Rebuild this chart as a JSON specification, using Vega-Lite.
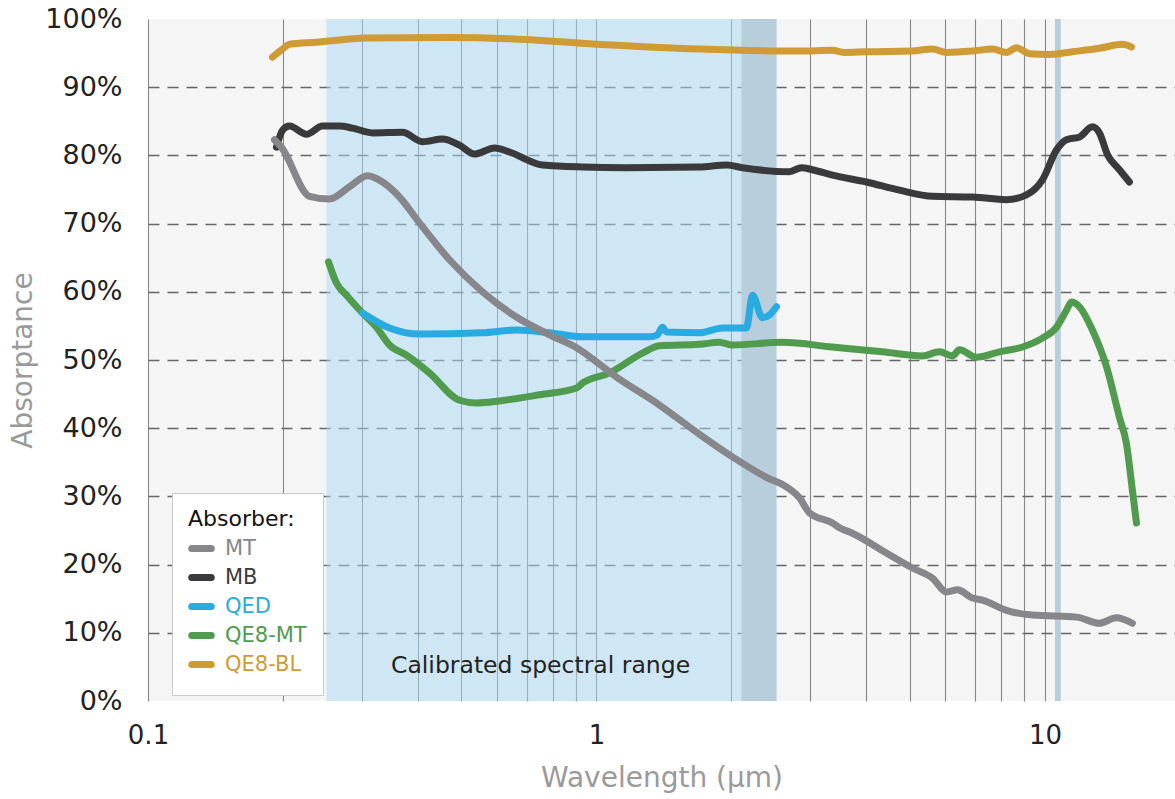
{
  "$schema": "https://vega.github.io/schema/vega-lite/v6.json",
  "width": 1027,
  "height": 682,
  "autosize": {"type": "none"},
  "padding": {"left": 148, "top": 19, "right": 0, "bottom": 98},
  "background": "white",
  "config": {
    "font": "DejaVu Sans",
    "view": {"fill": "#f5f5f5", "stroke": null}
  },
  "datasets": {
    "bands": [
      {"start": 0.25, "end": 2.52, "kind": "cal"}
    ],
    "hatch": [
      {"start": 2.105, "end": 2.52},
      {"start": 10.53, "end": 10.85}
    ],
    "curves": [
      {"s": "QE8-BL", "w": 0.1895, "a": 0.944},
      {"s": "QE8-BL", "w": 0.1995, "a": 0.956},
      {"s": "QE8-BL", "w": 0.2068, "a": 0.963},
      {"s": "QE8-BL", "w": 0.2375, "a": 0.966},
      {"s": "QE8-BL", "w": 0.307, "a": 0.972},
      {"s": "QE8-BL", "w": 0.47, "a": 0.973},
      {"s": "QE8-BL", "w": 0.64, "a": 0.971},
      {"s": "QE8-BL", "w": 1.0, "a": 0.963},
      {"s": "QE8-BL", "w": 1.697, "a": 0.956},
      {"s": "QE8-BL", "w": 2.836, "a": 0.953},
      {"s": "QE8-BL", "w": 3.359, "a": 0.954},
      {"s": "QE8-BL", "w": 3.57, "a": 0.951},
      {"s": "QE8-BL", "w": 4.0, "a": 0.952},
      {"s": "QE8-BL", "w": 5.04, "a": 0.953},
      {"s": "QE8-BL", "w": 5.614, "a": 0.956},
      {"s": "QE8-BL", "w": 6.032, "a": 0.951},
      {"s": "QE8-BL", "w": 6.892, "a": 0.953},
      {"s": "QE8-BL", "w": 7.64, "a": 0.956},
      {"s": "QE8-BL", "w": 8.207, "a": 0.951},
      {"s": "QE8-BL", "w": 8.639, "a": 0.958},
      {"s": "QE8-BL", "w": 9.235, "a": 0.949},
      {"s": "QE8-BL", "w": 10.23, "a": 0.948},
      {"s": "QE8-BL", "w": 11.52, "a": 0.952},
      {"s": "QE8-BL", "w": 13.23, "a": 0.957},
      {"s": "QE8-BL", "w": 14.89, "a": 0.963},
      {"s": "QE8-BL", "w": 15.59, "a": 0.959},

      {"s": "QE8-MT", "w": 0.2526, "a": 0.644},
      {"s": "QE8-MT", "w": 0.2632, "a": 0.613},
      {"s": "QE8-MT", "w": 0.2771, "a": 0.595},
      {"s": "QE8-MT", "w": 0.3007, "a": 0.569},
      {"s": "QE8-MT", "w": 0.3231, "a": 0.548},
      {"s": "QE8-MT", "w": 0.3455, "a": 0.522},
      {"s": "QE8-MT", "w": 0.3771, "a": 0.507},
      {"s": "QE8-MT", "w": 0.4243, "a": 0.481},
      {"s": "QE8-MT", "w": 0.495, "a": 0.441},
      {"s": "QE8-MT", "w": 0.5401, "a": 0.437},
      {"s": "QE8-MT", "w": 0.6077, "a": 0.44},
      {"s": "QE8-MT", "w": 0.7462, "a": 0.449},
      {"s": "QE8-MT", "w": 0.9025, "a": 0.459},
      {"s": "QE8-MT", "w": 0.9306, "a": 0.466},
      {"s": "QE8-MT", "w": 1.069, "a": 0.481},
      {"s": "QE8-MT", "w": 1.266, "a": 0.51},
      {"s": "QE8-MT", "w": 1.382, "a": 0.521},
      {"s": "QE8-MT", "w": 1.697, "a": 0.523},
      {"s": "QE8-MT", "w": 1.88, "a": 0.526},
      {"s": "QE8-MT", "w": 2.01, "a": 0.522},
      {"s": "QE8-MT", "w": 2.598, "a": 0.526},
      {"s": "QE8-MT", "w": 3.359, "a": 0.519},
      {"s": "QE8-MT", "w": 4.342, "a": 0.512},
      {"s": "QE8-MT", "w": 5.333, "a": 0.506},
      {"s": "QE8-MT", "w": 5.82, "a": 0.512},
      {"s": "QE8-MT", "w": 6.22, "a": 0.506},
      {"s": "QE8-MT", "w": 6.448, "a": 0.515},
      {"s": "QE8-MT", "w": 7.036, "a": 0.504},
      {"s": "QE8-MT", "w": 7.915, "a": 0.512},
      {"s": "QE8-MT", "w": 8.909, "a": 0.519},
      {"s": "QE8-MT", "w": 9.872, "a": 0.532},
      {"s": "QE8-MT", "w": 10.61, "a": 0.548},
      {"s": "QE8-MT", "w": 11.17, "a": 0.573},
      {"s": "QE8-MT", "w": 11.46, "a": 0.585},
      {"s": "QE8-MT", "w": 11.94, "a": 0.578},
      {"s": "QE8-MT", "w": 12.76, "a": 0.544},
      {"s": "QE8-MT", "w": 13.72, "a": 0.49},
      {"s": "QE8-MT", "w": 14.66, "a": 0.416},
      {"s": "QE8-MT", "w": 15.19, "a": 0.378},
      {"s": "QE8-MT", "w": 15.67, "a": 0.309},
      {"s": "QE8-MT", "w": 16.0, "a": 0.261},

      {"s": "QED", "w": 0.3007, "a": 0.569},
      {"s": "QED", "w": 0.3455, "a": 0.547},
      {"s": "QED", "w": 0.403, "a": 0.538},
      {"s": "QED", "w": 0.557, "a": 0.54},
      {"s": "QED", "w": 0.6632, "a": 0.544},
      {"s": "QED", "w": 0.7855, "a": 0.54},
      {"s": "QED", "w": 0.9306, "a": 0.534},
      {"s": "QED", "w": 1.313, "a": 0.534},
      {"s": "QED", "w": 1.368, "a": 0.537},
      {"s": "QED", "w": 1.403, "a": 0.548},
      {"s": "QED", "w": 1.432, "a": 0.541},
      {"s": "QED", "w": 1.697, "a": 0.54},
      {"s": "QED", "w": 1.91, "a": 0.547},
      {"s": "QED", "w": 2.16, "a": 0.547},
      {"s": "QED", "w": 2.228, "a": 0.595},
      {"s": "QED", "w": 2.345, "a": 0.562},
      {"s": "QED", "w": 2.431, "a": 0.566},
      {"s": "QED", "w": 2.52, "a": 0.578},

      {"s": "MB", "w": 0.1934, "a": 0.812},
      {"s": "MB", "w": 0.1995, "a": 0.837},
      {"s": "MB", "w": 0.2068, "a": 0.843},
      {"s": "MB", "w": 0.2256, "a": 0.831},
      {"s": "MB", "w": 0.2449, "a": 0.843},
      {"s": "MB", "w": 0.2673, "a": 0.843},
      {"s": "MB", "w": 0.2858, "a": 0.84},
      {"s": "MB", "w": 0.3166, "a": 0.833},
      {"s": "MB", "w": 0.3693, "a": 0.834},
      {"s": "MB", "w": 0.4093, "a": 0.82},
      {"s": "MB", "w": 0.4535, "a": 0.824},
      {"s": "MB", "w": 0.495, "a": 0.815},
      {"s": "MB", "w": 0.5346, "a": 0.802},
      {"s": "MB", "w": 0.5924, "a": 0.811},
      {"s": "MB", "w": 0.6397, "a": 0.805},
      {"s": "MB", "w": 0.7578, "a": 0.786},
      {"s": "MB", "w": 0.9306, "a": 0.783},
      {"s": "MB", "w": 1.166, "a": 0.782},
      {"s": "MB", "w": 1.697, "a": 0.783},
      {"s": "MB", "w": 1.95, "a": 0.786},
      {"s": "MB", "w": 2.116, "a": 0.782},
      {"s": "MB", "w": 2.694, "a": 0.776},
      {"s": "MB", "w": 2.865, "a": 0.782},
      {"s": "MB", "w": 3.031, "a": 0.779},
      {"s": "MB", "w": 3.359, "a": 0.771},
      {"s": "MB", "w": 4.0, "a": 0.761},
      {"s": "MB", "w": 4.738, "a": 0.749},
      {"s": "MB", "w": 5.614, "a": 0.74},
      {"s": "MB", "w": 6.892, "a": 0.739},
      {"s": "MB", "w": 8.207, "a": 0.735},
      {"s": "MB", "w": 9.094, "a": 0.742},
      {"s": "MB", "w": 9.872, "a": 0.764},
      {"s": "MB", "w": 10.61, "a": 0.808},
      {"s": "MB", "w": 11.17, "a": 0.823},
      {"s": "MB", "w": 11.94, "a": 0.827},
      {"s": "MB", "w": 12.76, "a": 0.842},
      {"s": "MB", "w": 13.23, "a": 0.833},
      {"s": "MB", "w": 13.79, "a": 0.801},
      {"s": "MB", "w": 14.66, "a": 0.779},
      {"s": "MB", "w": 15.43, "a": 0.761},

      {"s": "MT", "w": 0.1914, "a": 0.823},
      {"s": "MT", "w": 0.1984, "a": 0.812},
      {"s": "MT", "w": 0.2292, "a": 0.74},
      {"s": "MT", "w": 0.2539, "a": 0.736},
      {"s": "MT", "w": 0.2814, "a": 0.754},
      {"s": "MT", "w": 0.3086, "a": 0.77},
      {"s": "MT", "w": 0.3333, "a": 0.761},
      {"s": "MT", "w": 0.3637, "a": 0.739},
      {"s": "MT", "w": 0.403, "a": 0.701},
      {"s": "MT", "w": 0.4701, "a": 0.647},
      {"s": "MT", "w": 0.557, "a": 0.6},
      {"s": "MT", "w": 0.6632, "a": 0.563},
      {"s": "MT", "w": 0.7855, "a": 0.537},
      {"s": "MT", "w": 0.9025, "a": 0.518},
      {"s": "MT", "w": 1.108, "a": 0.475},
      {"s": "MT", "w": 1.382, "a": 0.434},
      {"s": "MT", "w": 1.697, "a": 0.391},
      {"s": "MT", "w": 2.01, "a": 0.358},
      {"s": "MT", "w": 2.393, "a": 0.328},
      {"s": "MT", "w": 2.652, "a": 0.314},
      {"s": "MT", "w": 2.836, "a": 0.298},
      {"s": "MT", "w": 2.985, "a": 0.276},
      {"s": "MT", "w": 3.359, "a": 0.261},
      {"s": "MT", "w": 3.482, "a": 0.254},
      {"s": "MT", "w": 3.722, "a": 0.246},
      {"s": "MT", "w": 4.432, "a": 0.217},
      {"s": "MT", "w": 5.066, "a": 0.195},
      {"s": "MT", "w": 5.614, "a": 0.18},
      {"s": "MT", "w": 6.032, "a": 0.16},
      {"s": "MT", "w": 6.382, "a": 0.163},
      {"s": "MT", "w": 6.892, "a": 0.151},
      {"s": "MT", "w": 7.255, "a": 0.148},
      {"s": "MT", "w": 8.207, "a": 0.133},
      {"s": "MT", "w": 9.379, "a": 0.126},
      {"s": "MT", "w": 11.76, "a": 0.123},
      {"s": "MT", "w": 13.23, "a": 0.114},
      {"s": "MT", "w": 14.43, "a": 0.122},
      {"s": "MT", "w": 15.67, "a": 0.114}
    ]
  },
  "encoding": {
    "x": {
      "type": "quantitative",
      "scale": {"type": "log", "domain": [0.1, 19.5], "nice": false},
      "axis": {
        "values": [0.1, 0.2, 0.3, 0.4, 0.5, 0.6, 0.7, 0.8, 0.9, 1, 2, 3, 4, 5, 6, 7, 8, 9, 10],
        "labelExpr": "datum.value == 0.1 || datum.value == 1 || datum.value == 10 ? datum.label : ''",
        "format": "~g",
        "grid": true,
        "gridColor": "#878787",
        "gridWidth": 1.1,
        "ticks": false,
        "domain": false,
        "labelFontSize": 26,
        "labelColor": "#222222",
        "labelPadding": 21,
        "labelFlush": false,
        "labelOverlap": false,
        "title": "Wavelength (µm)",
        "titleFontSize": 28,
        "titleFontWeight": "normal",
        "titleColor": "#9a9a9a",
        "titlePadding": 16
      }
    },
    "y": {
      "type": "quantitative",
      "scale": {"domain": [0, 1], "nice": false},
      "axis": {
        "values": [0, 0.1, 0.2, 0.3, 0.4, 0.5, 0.6, 0.7, 0.8, 0.9, 1],
        "format": ".0%",
        "grid": true,
        "gridColor": "#666666",
        "gridWidth": 1.3,
        "gridDash": [11, 8],
        "gridOpacity": {"condition": {"test": "datum.value == 0 || datum.value == 1", "value": 0}, "value": 1},
        "ticks": false,
        "domain": false,
        "labelFontSize": 27,
        "labelColor": "#222222",
        "labelPadding": 26,
        "title": "Absorptance",
        "titleFontSize": 28,
        "titleFontWeight": "normal",
        "titleColor": "#9a9a9a",
        "titlePadding": 7
      }
    }
  },
  "layer": [
    {
      "data": {"name": "bands"},
      "mark": {"type": "rect", "color": "#a9daf5", "opacity": 0.5},
      "encoding": {
        "x": {"field": "start"},
        "x2": {"field": "end"},
        "y": {"datum": 0},
        "y2": {"datum": 1}
      }
    },
    {
      "data": {"name": "hatch"},
      "mark": {"type": "rect", "color": "#b8cedd"},
      "encoding": {
        "x": {"field": "start"},
        "x2": {"field": "end"},
        "y": {"datum": 0},
        "y2": {"datum": 1}
      }
    },
    {
      "data": {"values": [{"t": "Calibrated spectral range"}]},
      "mark": {"type": "text", "fontSize": 23.5, "color": "#222222", "align": "center", "baseline": "middle"},
      "encoding": {
        "x": {"datum": 0.7505},
        "y": {"datum": 0.052},
        "text": {"field": "t"}
      }
    },
    {
      "data": {"name": "curves"},
      "mark": {"type": "line", "strokeWidth": 7, "strokeCap": "round", "strokeJoin": "round", "interpolate": "monotone"},
      "encoding": {
        "x": {"field": "w"},
        "y": {"field": "a"},
        "order": {"field": "w"},
        "color": {
          "field": "s",
          "type": "nominal",
          "scale": {
            "domain": ["MT", "MB", "QED", "QE8-MT", "QE8-BL"],
            "range": ["#87878b", "#3a3a3c", "#29abe2", "#509b4e", "#cf9b34"]
          },
          "legend": {
            "title": "Absorber:",
            "orient": "none",
            "legendX": 24,
            "legendY": 474,
            "fillColor": "white",
            "strokeColor": "#cccccc",
            "padding": 16,
            "titleFontSize": 22,
            "titleFontWeight": "normal",
            "titleColor": "#111111",
            "titlePadding": 4,
            "labelFontSize": 21,
            "labelLimit": 300,
            "symbolType": "stroke",
            "symbolStrokeWidth": 7,
            "symbolSize": 380,
            "rowPadding": 0,
            "labelOffset": 10,
            "encode": {
              "labels": {"update": {"fill": {"scale": "color", "field": "value"}}},
              "symbols": {"update": {"strokeCap": {"value": "round"}}}
            }
          }
        }
      }
    }
  ]
}
